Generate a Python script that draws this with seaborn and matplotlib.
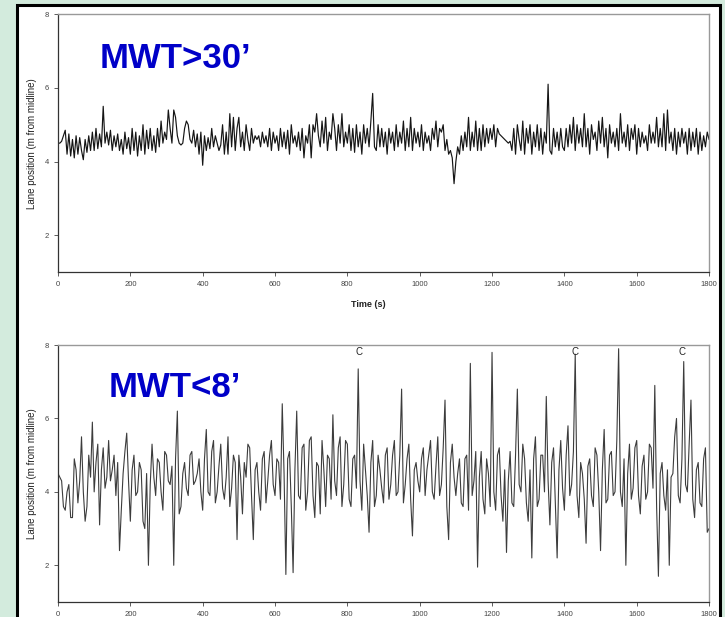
import numpy as np
import pandas as pd
import matplotlib.pyplot as plt
import seaborn as sns
from matplotlib.patches import Rectangle

# time axis: one reading every 5 s
time_s = list(range(0, 1805, 5))

# MWT>30' lane position (m from midline)
lane_long = [
    4.5, 4.5, 4.55, 4.7, 4.85, 4.2, 4.75, 4.15, 4.6, 4.1, 4.7, 4.2, 4.65, 4.3, 4.05, 4.6, 4.25, 4.7, 4.3, 4.8,
    4.3, 4.9, 4.35, 4.75, 4.4, 5.5, 4.5, 4.8, 4.45, 4.85, 4.3, 4.7, 4.4, 4.75, 4.3, 4.6, 4.2, 4.8, 4.35, 4.65,
    4.2, 4.9, 4.3, 4.8, 4.15, 4.7, 4.3, 5.0, 4.2, 4.85, 4.35, 4.9, 4.3, 4.7, 4.25, 4.9, 4.4, 5.1, 4.5, 4.8,
    4.6, 5.4, 4.9, 4.5, 5.4, 5.2, 4.7, 4.5, 4.45, 4.5, 4.9, 5.1, 5.0, 4.6, 4.5, 4.85, 4.4, 4.75, 4.2, 4.8,
    3.9, 4.7, 4.3, 4.65, 4.35, 4.9, 4.4, 4.7, 4.5, 4.3, 4.45, 5.0, 4.2, 4.8, 4.2, 5.3, 4.4, 5.2, 4.3, 4.9,
    5.2, 4.4, 4.8, 4.3, 5.0, 4.6, 4.3, 4.9, 4.5, 4.7, 4.6, 4.7, 4.4, 4.8, 4.5, 4.7, 4.4, 4.9, 4.3, 4.8,
    4.5, 4.7, 4.3, 4.9, 4.4, 4.8, 4.35, 4.85, 4.2, 5.0, 4.5, 4.7, 4.4, 4.8, 4.3, 4.9, 4.1, 4.7, 4.5, 5.0,
    4.1, 5.0, 4.8, 5.3, 4.7, 4.4, 5.1, 4.5, 5.2, 4.3, 4.8, 4.6, 5.3, 4.9, 4.3, 5.0, 4.5, 5.3, 4.4, 4.8,
    4.5, 5.0, 4.3, 4.9, 4.25, 5.0, 4.4, 4.8, 4.2, 5.0, 4.5, 4.9, 4.4, 5.1, 5.85, 4.4, 4.3, 5.0, 4.4, 4.9,
    4.4, 4.8, 4.2, 4.9, 4.5, 4.8, 4.3, 5.0, 4.4, 4.8, 4.5, 5.1, 4.3, 4.9, 4.4, 5.2, 4.3, 4.9, 4.5, 4.8,
    4.4, 5.0, 4.3, 4.8, 4.5, 4.7, 4.3, 4.9, 4.6, 5.1, 4.4, 4.9, 4.8, 5.0, 4.3, 4.6, 4.2, 4.3, 4.1, 3.4,
    4.0, 4.4, 4.2, 4.7, 4.3, 4.8, 4.4, 5.2, 4.3, 4.8, 4.4, 5.1, 4.3, 4.9, 4.3, 5.0, 4.4, 4.9, 4.5, 4.9,
    4.6, 5.0, 4.4, 4.9, 4.75, 4.7, 4.65, 4.6, 4.55, 4.5, 4.55, 4.3, 4.9, 4.2, 5.0, 4.6, 4.3, 5.1, 4.2, 4.9,
    4.5, 5.0, 4.2, 4.8, 4.4, 5.0, 4.3, 4.9, 4.2, 4.8, 4.5, 6.1, 4.3, 4.2, 4.9, 4.4, 4.8, 4.3, 4.9, 4.4,
    4.3, 4.9, 4.4, 5.0, 4.5, 5.2, 4.3, 5.0, 4.5, 4.9, 4.4, 5.3, 4.4, 4.9, 4.2, 5.0, 4.6, 4.8, 4.3, 5.1,
    4.5, 5.2, 4.4, 4.9, 4.1, 5.0, 4.5, 4.8, 4.4, 4.9, 4.3, 5.3, 4.5, 4.8, 4.4, 5.0, 4.3, 4.9, 4.6, 5.0,
    4.2, 4.9, 4.4, 4.8, 4.5, 4.7, 4.3, 5.0, 4.5, 4.8, 4.5, 5.2, 4.4, 4.9, 4.4, 5.3, 4.3, 5.4, 4.5, 4.8,
    4.3, 4.9, 4.2, 4.8, 4.4, 4.9, 4.5, 4.8, 4.2, 4.9, 4.3, 4.8, 4.4, 4.9, 4.2, 4.8, 4.3, 4.7, 4.4, 4.8,
    4.6,
]

# MWT<8' lane position (m from midline)
lane_short = [
    4.5, 4.4, 4.3, 3.6, 3.5, 4.0, 4.2, 3.3, 3.3, 4.9, 4.6, 3.7, 4.3, 5.5, 4.0, 3.2, 3.6, 5.0, 4.4, 5.9,
    4.0, 4.8, 5.3, 3.1, 4.6, 5.2, 4.1, 4.4, 5.4, 4.3, 4.6, 5.0, 3.9, 4.8, 2.4, 3.5, 4.5, 5.1, 5.6, 4.3,
    3.2, 4.6, 5.0, 3.9, 4.0, 4.8, 4.6, 3.2, 3.0, 4.5, 2.0, 4.2, 5.3, 4.4, 3.9, 4.9, 4.8, 4.0, 3.5, 5.1,
    5.0, 4.3, 4.2, 4.7, 2.0, 4.9, 6.2, 3.4, 3.6, 4.5, 4.8, 4.1, 3.9, 5.0, 5.1, 4.2, 4.3, 4.5, 4.9, 4.0,
    3.5, 4.9, 5.7, 4.0, 3.9, 5.1, 5.4, 3.7, 4.0, 4.7, 5.3, 4.1, 3.8, 4.4, 5.5, 3.6, 4.1, 5.0, 4.8, 2.7,
    5.0, 4.4, 3.4, 4.8, 4.4, 5.3, 5.2, 3.9, 2.7, 4.6, 4.8, 4.0, 3.5, 4.9, 5.1, 3.7, 4.3, 5.0, 5.4, 4.2,
    3.9, 4.9, 4.8, 3.8, 6.4, 4.5, 1.75, 4.9, 5.1, 3.6, 1.8, 4.6, 6.2, 3.9, 3.8, 5.2, 5.3, 3.5, 4.0, 5.4,
    5.5, 3.9, 3.3, 4.8, 4.7, 3.4, 5.4, 4.6, 3.6, 5.0, 4.9, 3.8, 6.1, 4.3, 3.9, 5.2, 5.5, 3.6, 4.2, 5.4,
    5.3, 3.8, 3.6, 4.9, 5.0, 4.1, 7.35, 4.3, 3.5, 5.3, 4.6, 3.9, 2.9, 4.8, 5.4, 3.6, 3.9, 5.0, 4.6, 4.1,
    3.7, 5.0, 5.2, 3.8, 4.2, 5.0, 5.4, 3.9, 4.0, 5.0, 6.8, 3.7, 4.2, 4.9, 5.3, 3.8, 2.8, 4.6, 4.8, 4.3,
    4.0, 4.9, 5.2, 3.9, 4.6, 5.0, 5.4, 4.0, 3.8, 4.7, 5.5, 3.9, 4.2, 5.2, 6.5, 3.6, 2.7, 4.8, 5.3, 4.4,
    3.9, 4.5, 4.9, 3.7, 3.6, 4.9, 5.0, 3.5, 7.5, 3.9, 4.3, 5.1, 1.95, 4.4, 5.1, 3.8, 3.4, 4.9, 4.5, 3.6,
    7.8, 4.0, 3.5, 5.0, 5.2, 3.9, 3.2, 4.6, 2.35, 4.3, 5.1, 3.7, 3.6, 5.0, 6.8, 4.2, 4.0, 5.3, 4.9, 3.7,
    3.2, 4.6, 2.2, 4.9, 5.5, 3.6, 3.8, 5.0, 5.0, 4.0, 6.6, 4.3, 3.1, 4.8, 5.2, 3.7, 2.2, 4.6, 5.4, 4.1,
    3.5, 5.0, 5.8, 3.9, 4.2, 5.1, 7.75, 3.9, 3.3, 4.8, 4.5, 3.8, 2.6, 4.7, 4.9, 3.9, 3.6, 5.2, 5.0, 4.0,
    2.4, 4.6, 5.7, 3.7, 3.8, 5.0, 5.1, 3.9, 4.0, 5.4, 7.9, 4.0, 3.6, 4.9, 2.0, 4.5, 5.3, 3.8, 4.1, 5.2,
    5.4, 3.9, 3.4, 4.7, 5.0, 3.8, 4.0, 5.3, 5.2, 4.1, 6.9, 3.6, 1.7, 4.5, 4.8, 3.9, 3.5, 4.6, 2.0, 4.4,
    4.5, 5.5, 6.0, 3.9, 3.7, 4.9, 7.55, 4.2, 4.0, 5.3, 6.5, 3.8, 3.3, 4.6, 4.8, 3.7, 3.6, 4.9, 5.2, 2.9,
    3.0,
]

crash_times = [832, 1430, 1725]
crash_level = 7.82
x_ticks = list(range(0, 2000, 200))
y_ticks = [2, 4, 6, 8]

sns.set_style('white')
plt.rcParams['font.family'] = ['Liberation Sans', 'DejaVu Sans']

fig = plt.figure(figsize=(7.25, 6.17), dpi=100, facecolor='#d3ebdd')
fig.patches.append(Rectangle((0.0234, -0.02), 0.970, 1.012, transform=fig.transFigure,
                             facecolor='white', edgecolor='black', linewidth=2.2, zorder=-5))

ax1 = fig.add_axes([0.080, 0.559, 0.898, 0.418])
ax2 = fig.add_axes([0.080, 0.0243, 0.898, 0.4165])

df1 = pd.DataFrame({'t': time_s, 'pos': lane_long})
df2 = pd.DataFrame({'t': time_s, 'pos': lane_short})

sns.lineplot(data=df1, x='t', y='pos', ax=ax1, color='#151515', linewidth=0.85)
sns.lineplot(data=df2, x='t', y='pos', ax=ax2, color='#3c3c3c', linewidth=0.8)

for ax in (ax1, ax2):
    ax.patch.set_alpha(0)
    ax.set_xlim(0, 1800)
    ax.set_ylim(1, 8)
    ax.set_xticks(x_ticks)
    ax.set_yticks(y_ticks)
    ax.tick_params(axis='both', labelsize=5.5, length=3, width=0.6, colors='#444444',
                   direction='out', bottom=True, left=True)
    for s in ('top', 'right'):
        ax.spines[s].set_color('#999999')
        ax.spines[s].set_linewidth(1.0)
    for s in ('left', 'bottom'):
        ax.spines[s].set_color('#333333')
        ax.spines[s].set_linewidth(0.9)
    ax.set_ylabel('Lane position (m from midline)', fontsize=7, color='#222222')
    ax.yaxis.set_label_coords(-0.032, 0.5)

ax1.set_xlabel('Time (s)', fontsize=6.5, fontweight='bold', color='#222222')
ax1.xaxis.set_label_coords(0.476, -0.108)
ax2.set_xlabel('')

ax1.text(0.0645, 0.79, 'MWT>30\u2019', transform=ax1.transAxes, fontsize=25,
         fontweight='bold', color='#0000c8', va='baseline')
ax2.text(0.077, 0.798, 'MWT<8\u2019', transform=ax2.transAxes, fontsize=25,
         fontweight='bold', color='#0000c8', va='baseline')

for t in crash_times:
    ax2.text(t, crash_level, 'C', fontsize=7, color='#222222', ha='center', va='center')

fig.savefig('out.png', dpi=100, facecolor=fig.get_facecolor())
